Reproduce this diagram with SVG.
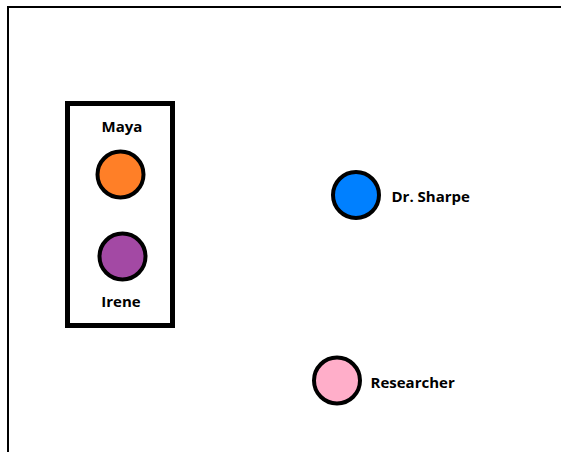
<svg xmlns="http://www.w3.org/2000/svg" width="561" height="452" viewBox="0 0 561 452">
  <style>
    .node { stroke: #000; stroke-width: 4; }
    .label { font-family: "Open Sans", "Liberation Sans", sans-serif; font-weight: bold; font-size: 15px; fill: #000; }
    .frame { stroke: #000; stroke-width: 2; fill: none; }
  </style>
  <rect width="561" height="452" fill="#fff"/>
  <!-- canvas frame: top and left edges only -->
  <polyline class="frame" points="8,452 8,7 561,7"/>

  <!-- group box -->
  <g id="group">
    <rect x="67.5" y="103.5" width="105" height="222" fill="none" stroke="#000" stroke-width="5"/>
  </g>

  <g id="maya">
    <text class="label" x="122" y="132" text-anchor="middle">Maya</text>
    <circle class="node" cx="120.5" cy="174.5" r="23" fill="#FF7F27"/>
  </g>

  <g id="irene">
    <circle class="node" cx="122.5" cy="256.5" r="23" fill="#A349A4"/>
    <text class="label" x="121" y="307" text-anchor="middle">Irene</text>
  </g>

  <g id="dr-sharpe">
    <circle class="node" cx="356" cy="195" r="23" fill="#0080FF"/>
    <text class="label" x="391.5" y="202">Dr. Sharpe</text>
  </g>

  <g id="researcher">
    <circle class="node" cx="337" cy="380.5" r="23" fill="#FFAEC9"/>
    <text class="label" x="370.5" y="388">Researcher</text>
  </g>

  <g id="connectors"></g>
</svg>
